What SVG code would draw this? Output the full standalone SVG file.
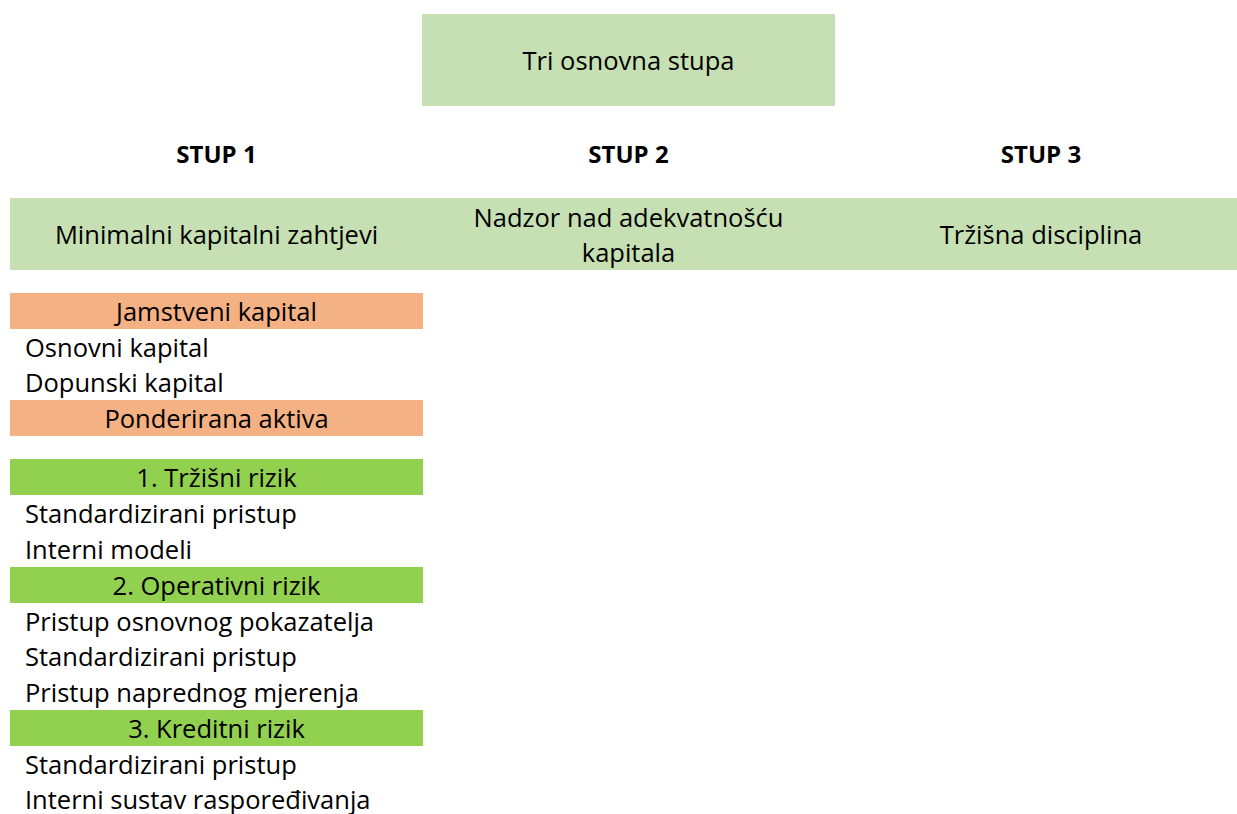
<svg xmlns="http://www.w3.org/2000/svg" width="1237" height="814" viewBox="0 0 1237 814">
<style>
text{font-family:"Open Sans","Noto Sans","Liberation Sans",sans-serif;font-size:25.5px;fill:#000}
.c{text-anchor:middle}
.b{font-weight:bold;font-size:24px}
.lg{fill:#C6E0B4}
.or{fill:#F4B183}
.gr{fill:#92D050}
</style>
<rect width="1237" height="814" fill="#fff"/>
<g id="title">
<rect class="lg" x="422" y="14" width="413" height="92"/>
<text class="c" x="628.5" y="70">Tri osnovna stupa</text>
</g>
<g id="headers">
<text class="c b" x="216.5" y="163">STUP 1</text>
<text class="c b" x="628.5" y="163">STUP 2</text>
<text class="c b" x="1041" y="163">STUP 3</text>
</g>
<g id="band">
<rect class="lg" x="10" y="198" width="1227" height="72"/>
</g>
<g id="stup1"><text class="c" x="216.5" y="244">Minimalni kapitalni zahtjevi</text></g>
<g id="stup2"><text class="c" x="628.5" y="227">Nadzor nad adekvatnošću</text><text class="c" x="628.5" y="262">kapitala</text></g>
<g id="stup3"><text class="c" x="1041" y="244">Tržišna disciplina</text></g>
<g id="jamstveni">
<rect class="or" x="10" y="293" width="413" height="36"/>
<text class="c" x="216.5" y="321">Jamstveni kapital</text>
<text x="25" y="357">Osnovni kapital</text>
<text x="25" y="392">Dopunski kapital</text>
</g>
<g id="ponderirana">
<rect class="or" x="10" y="400" width="413" height="36"/>
<text class="c" x="216.5" y="428">Ponderirana aktiva</text>
</g>
<g id="trzisni">
<rect class="gr" x="10" y="459" width="413" height="36"/>
<text class="c" x="216.5" y="487">1. Tržišni rizik</text>
<text x="25" y="523">Standardizirani pristup</text>
<text x="25" y="559">Interni modeli</text>
</g>
<g id="operativni">
<rect class="gr" x="10" y="567" width="413" height="36"/>
<text class="c" x="216.5" y="595">2. Operativni rizik</text>
<text x="25" y="631">Pristup osnovnog pokazatelja</text>
<text x="25" y="666">Standardizirani pristup</text>
<text x="25" y="702">Pristup naprednog mjerenja</text>
</g>
<g id="kreditni">
<rect class="gr" x="10" y="710" width="413" height="36"/>
<text class="c" x="216.5" y="738">3. Kreditni rizik</text>
<text x="25" y="774">Standardizirani pristup</text>
<text x="25" y="809">Interni sustav raspoređivanja</text>
</g>
<g id="connectors"/>
</svg>
